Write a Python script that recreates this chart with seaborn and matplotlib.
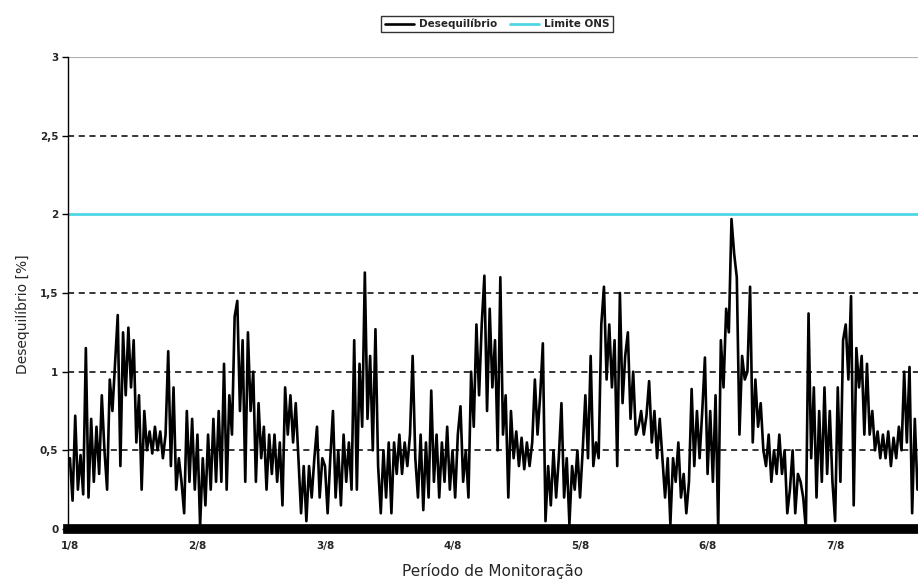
import numpy as np
import pandas as pd
import seaborn as sns
import matplotlib.pyplot as plt

# Desequilibrio [%], amostras de 30 em 30 minutos a partir de 1/8 00:00
dia1 = [0.45, 0.18, 0.72, 0.25, 0.47, 0.22, 1.15, 0.20, 0.70, 0.30, 0.65, 0.35,
        0.85, 0.50, 0.25, 0.95, 0.75, 1.05, 1.36, 0.40, 1.25, 0.85, 1.28, 0.90,
        1.20, 0.55, 0.85, 0.25, 0.75, 0.50, 0.62, 0.48, 0.65, 0.50, 0.62, 0.45,
        0.60, 1.13, 0.40, 0.90, 0.25, 0.45, 0.30, 0.10, 0.75, 0.30, 0.70, 0.25]
dia2 = [0.60, 0.02, 0.45, 0.15, 0.60, 0.25, 0.70, 0.30, 0.75, 0.30, 1.05, 0.25,
        0.85, 0.60, 1.35, 1.45, 0.75, 1.20, 0.30, 1.25, 0.75, 1.00, 0.30, 0.80,
        0.45, 0.65, 0.25, 0.60, 0.35, 0.60, 0.30, 0.55, 0.15, 0.90, 0.60, 0.85,
        0.55, 0.80, 0.45, 0.10, 0.40, 0.05, 0.40, 0.20, 0.45, 0.65, 0.20, 0.45]
dia3 = [0.40, 0.10, 0.45, 0.75, 0.20, 0.50, 0.15, 0.60, 0.30, 0.55, 0.25, 1.20,
        0.25, 1.05, 0.65, 1.63, 0.70, 1.10, 0.50, 1.27, 0.40, 0.10, 0.50, 0.20,
        0.55, 0.10, 0.55, 0.35, 0.60, 0.35, 0.55, 0.40, 0.60, 1.10, 0.45, 0.20,
        0.60, 0.12, 0.55, 0.20, 0.88, 0.30, 0.60, 0.20, 0.55, 0.30, 0.65, 0.25]
dia4 = [0.50, 0.20, 0.60, 0.78, 0.30, 0.50, 0.20, 1.00, 0.65, 1.30, 0.85, 1.30,
        1.61, 0.75, 1.40, 0.90, 1.20, 0.50, 1.60, 0.60, 0.85, 0.20, 0.75, 0.45,
        0.62, 0.40, 0.58, 0.38, 0.55, 0.40, 0.55, 0.95, 0.60, 0.85, 1.18, 0.05,
        0.40, 0.15, 0.50, 0.20, 0.45, 0.80, 0.20, 0.45, 0.03, 0.40, 0.25, 0.50]
dia5 = [0.20, 0.50, 0.85, 0.45, 1.10, 0.40, 0.55, 0.45, 1.30, 1.54, 0.95, 1.30,
        0.90, 1.20, 0.40, 1.50, 0.80, 1.10, 1.25, 0.70, 1.00, 0.60, 0.65, 0.75,
        0.60, 0.72, 0.94, 0.55, 0.75, 0.45, 0.70, 0.45, 0.20, 0.45, 0.03, 0.45,
        0.30, 0.55, 0.20, 0.35, 0.10, 0.30, 0.89, 0.40, 0.75, 0.45, 0.75, 1.09]
dia6 = [0.35, 0.75, 0.30, 0.85, 0.00, 1.20, 0.90, 1.40, 1.25, 1.97, 1.75, 1.60,
        0.60, 1.10, 0.95, 1.00, 1.54, 0.55, 0.95, 0.65, 0.80, 0.50, 0.40, 0.60,
        0.30, 0.50, 0.35, 0.60, 0.35, 0.50, 0.10, 0.25, 0.50, 0.10, 0.35, 0.30,
        0.20, 0.00, 1.37, 0.45, 0.90, 0.20, 0.75, 0.30, 0.90, 0.35, 0.75, 0.30]
dia7 = [0.05, 0.90, 0.30, 1.20, 1.30, 0.95, 1.48, 0.15, 1.15, 0.90, 1.10, 0.60,
        1.05, 0.60, 0.75, 0.50, 0.62, 0.45, 0.60, 0.45, 0.62, 0.40, 0.58, 0.45,
        0.65, 0.50, 1.00, 0.55, 1.03, 0.10, 0.70, 0.25]

desequilibrio = dia1 + dia2 + dia3 + dia4 + dia5 + dia6 + dia7
limite_ons = 2.0
passo_horas = 0.5

ticks_x = [0, 1, 2, 3, 4, 5, 6]
rotulos_x = ["1/8", "2/8", "3/8", "4/8", "5/8", "6/8", "7/8"]
ticks_y = [0, 0.5, 1, 1.5, 2, 2.5, 3]
rotulos_y = ["0", "0,5", "1", "1,5", "2", "2,5", "3"]
grade_y = [0.5, 1, 1.5, 2.5]

df = pd.DataFrame({
    "dia": np.arange(len(desequilibrio)) * passo_horas / 24,
    "Desequilíbrio": desequilibrio,
})

sns.set_style("white")
plt.rcParams['font.family'] = ['DejaVu Sans']

fig = plt.figure(figsize=(9.18, 5.85), dpi=100)
ax = fig.add_axes([68 / 918, 1 - 529 / 585, 850 / 918, 472 / 585])

# grade tracejada e limite
for g in grade_y:
    ax.axhline(g, color="black", lw=1.1, ls=(0, (4, 3)), zorder=1)
ax.axhline(3, color="#b0b0b0", lw=0.8, zorder=1)

sns.lineplot(data=df, x="dia", y="Desequilíbrio", color="black", lw=1.9,
             label="Desequilíbrio", ax=ax, zorder=3)
ax.axhline(limite_ons, color="#4fd6e6", lw=2, label="Limite ONS", zorder=2)

ax.set_xlim(-0.015, 6.65)
ax.set_ylim(0, 3)
ax.set_xticks(ticks_x)
ax.set_xticklabels(rotulos_x, fontsize=7.5, fontweight="bold")
ax.set_yticks(ticks_y)
ax.set_yticklabels(rotulos_y, fontsize=7.5, fontweight="bold")
ax.tick_params(axis="y", direction="out", length=4, width=1, color="black", pad=3, left=True)
ax.tick_params(axis="x", length=0, pad=9)

ax.set_xlabel("Período de Monitoração", fontsize=11, labelpad=8)
ax.set_ylabel("Desequilíbrio [%]", fontsize=10)
ax.yaxis.set_label_coords(-0.045, 0.455)

sns.despine(ax=ax, top=True, right=True)
ax.spines["left"].set_linewidth(1)
ax.spines["left"].set_color("black")
ax.spines["bottom"].set_linewidth(7)
ax.spines["bottom"].set_color("black")

ax.get_legend().remove()
h, l = ax.get_legend_handles_labels()
leg = fig.legend(h, l, loc="center", bbox_to_anchor=(497 / 918, 1 - 24 / 585), ncol=2,
                 prop={"weight": "bold", "size": 7.5}, frameon=True,
                 fancybox=False, edgecolor="black", handlelength=2.8,
                 columnspacing=1.2, borderpad=0.3, handletextpad=0.5)
leg.get_frame().set_linewidth(1)

fig.savefig("out.png", dpi=100)
